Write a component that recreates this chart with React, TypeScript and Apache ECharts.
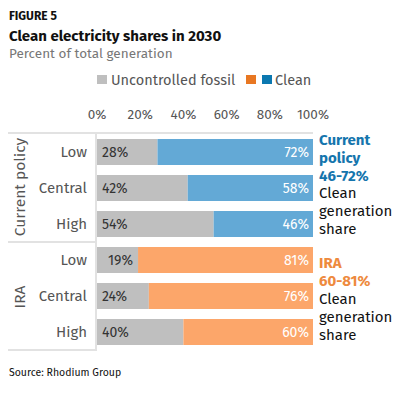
import React, { useEffect, useRef } from "react";
import * as echarts from "echarts";

const categories = ["cp-Low", "cp-Central", "cp-High", "ira-Low", "ira-Central", "ira-High"];
const fossil = [28, 42, 54, 19, 24, 40];
const clean = [72, 58, 46, 81, 76, 60];
const xTicks = [0, 20, 40, 60, 80, 100];

const FONT = "Fira Sans, Lato, sans-serif";
const GRAY = "#bfbfbf";
const BLUE_BAR = "#63a9d6";
const ORANGE_BAR = "#fca66a";
const BLUE = "#1575ad";
const ORANGE = "#ee8a3e";

export default function App() {
  const ref = useRef<HTMLDivElement>(null);
  useEffect(() => {
    document.body.style.margin = "0";
    const chart = echarts.init(ref.current!, null, { renderer: "svg" });
    const lineStyle = { stroke: "#e2e2e2", lineWidth: 2 };
    chart.setOption({
      animation: false,
      textStyle: { fontFamily: FONT },
      grid: { left: 97, right: 94, top: 134, height: 216 },
      xAxis: {
        type: "value",
        position: "top",
        min: 0,
        max: 100,
        interval: 20,
        axisLine: { show: false },
        axisTick: { show: false },
        splitLine: { show: false },
        axisLabel: {
          formatter: (v: number) => (xTicks.includes(v) ? v + "%" : ""),
          fontSize: 13.5,
          color: "#555",
          margin: 13,
          fontFamily: FONT,
        },
      },
      yAxis: {
        type: "category",
        inverse: true,
        data: categories,
        axisLine: { show: false },
        axisTick: { show: false },
        axisLabel: {
          formatter: (v: string) => v.split("-")[1],
          fontSize: 15,
          color: "#555",
          margin: 10,
          fontFamily: FONT,
        },
      },
      series: [
        {
          name: "Uncontrolled fossil",
          type: "bar",
          stack: "s",
          barWidth: 26,
          itemStyle: { color: GRAY },
          data: fossil.map((v) => ({
            value: v,
            label: { position: v < 20 ? "insideRight" : "insideLeft" },
          })),
          label: {
            show: true,
            formatter: "{c}%",
            color: "#333",
            fontSize: 14,
            distance: 5,
            fontFamily: FONT,
          },
        },
        {
          name: "Clean",
          type: "bar",
          stack: "s",
          barWidth: 26,
          data: clean.map((v, i) => ({
            value: v,
            itemStyle: { color: i < 3 ? BLUE_BAR : ORANGE_BAR },
          })),
          label: {
            show: true,
            position: "insideRight",
            formatter: "{c}%",
            color: "#fff",
            fontSize: 14,
            distance: 4,
            fontFamily: FONT,
          },
        },
      ],
      graphic: [
        { type: "text", left: 9, top: 10, style: { text: "FIGURE 5", fontSize: 12, fontWeight: "bold", fill: "#111", fontFamily: FONT } },
        { type: "text", left: 9, top: 28, style: { text: "Clean electricity shares in 2030", fontSize: 15, fontWeight: "bold", fill: "#111", fontFamily: FONT } },
        { type: "text", left: 9, top: 46, style: { text: "Percent of total generation", fontSize: 13.5, fill: "#777", fontFamily: FONT } },
        { type: "rect", shape: { x: 97, y: 75, width: 10, height: 9 }, style: { fill: GRAY } },
        { type: "text", x: 111, y: 79.5, style: { text: "Uncontrolled fossil", fontSize: 14.5, fill: "#555", verticalAlign: "middle", fontFamily: FONT } },
        { type: "rect", shape: { x: 246, y: 75, width: 10, height: 9 }, style: { fill: "#e87722" } },
        { type: "rect", shape: { x: 262, y: 75, width: 10, height: 9 }, style: { fill: "#0b78b0" } },
        { type: "text", x: 275, y: 79.5, style: { text: "Clean", fontSize: 14.5, fill: "#555", verticalAlign: "middle", fontFamily: FONT } },
        { type: "line", shape: { x1: 8, y1: 133, x2: 313, y2: 133 }, style: lineStyle },
        { type: "line", shape: { x1: 96, y1: 133, x2: 96, y2: 351 }, style: lineStyle },
        { type: "line", shape: { x1: 8, y1: 242, x2: 96, y2: 242 }, style: lineStyle },
        { type: "line", shape: { x1: 8, y1: 350, x2: 96, y2: 350 }, style: lineStyle },
        { type: "text", x: 20, y: 187, rotation: Math.PI / 2, style: { text: "Current policy", fontSize: 15.5, fill: "#555", align: "center", verticalAlign: "middle", fontFamily: FONT } },
        { type: "text", x: 20, y: 297, rotation: Math.PI / 2, style: { text: "IRA", fontSize: 15.5, fill: "#555", align: "center", verticalAlign: "middle", fontFamily: FONT } },
        {
          type: "text",
          x: 319,
          y: 131,
          style: {
            text: "{b|Current}\n{b|policy}\n{b|46-72%}\n{n|Clean}\n{n|generation}\n{n|share}",
            fontFamily: FONT,
            rich: {
              b: { fontSize: 15, fontWeight: "bold", fill: BLUE, lineHeight: 17.8, fontFamily: FONT },
              n: { fontSize: 15, fill: "#111", lineHeight: 17.8, fontFamily: FONT },
            },
          },
        },
        {
          type: "text",
          x: 319,
          y: 254,
          style: {
            text: "{b|IRA}\n{b|60-81%}\n{n|Clean}\n{n|generation}\n{n|share}",
            fontFamily: FONT,
            rich: {
              b: { fontSize: 15, fontWeight: "bold", fill: ORANGE, lineHeight: 18, fontFamily: FONT },
              n: { fontSize: 15, fill: "#111", lineHeight: 18, fontFamily: FONT },
            },
          },
        },
        { type: "text", left: 9, top: 367, style: { text: "Source: Rhodium Group", fontSize: 10.5, fill: "#111", fontFamily: FONT } },
      ],
    });
    return () => chart.dispose();
  }, []);
  return <div ref={ref} style={{ width: 407, height: 393 }} />;
}
